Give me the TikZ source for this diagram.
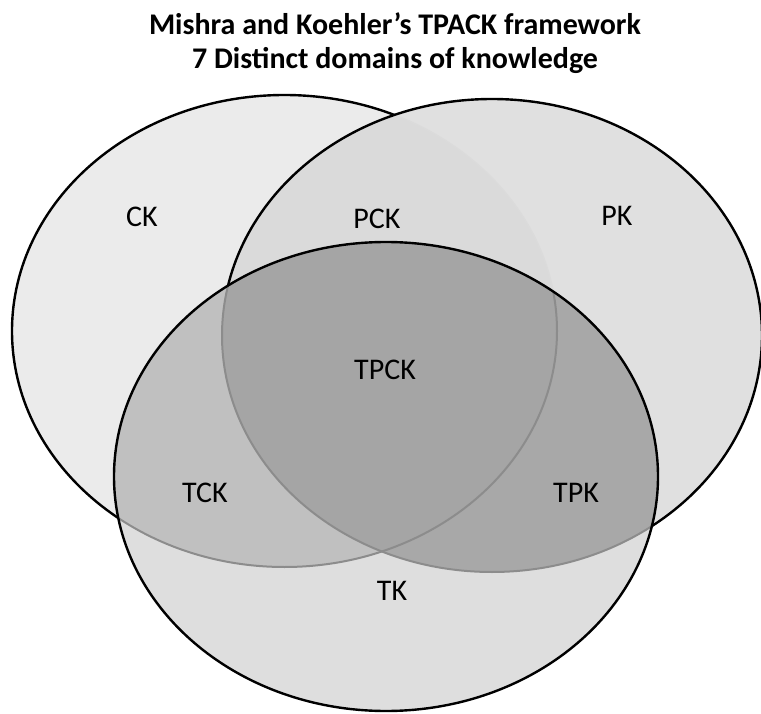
\documentclass[tikz,border=0pt]{standalone}
\usepackage{fontspec}
\setmainfont{Carlito}
\usepackage{tikz}
\usetikzlibrary{positioning}

\definecolor{ckfill}{HTML}{EBEBEB}
\definecolor{pkfill}{HTML}{E0E0E0}
\definecolor{pckfill}{HTML}{DADADA}
\definecolor{tkfill}{HTML}{DEDEDE}
\definecolor{tckfill}{HTML}{C0C0C0}
\definecolor{tpkfill}{HTML}{A8A8A8}
\definecolor{tpckfill}{HTML}{A5A5A5}

\def\ckshape{(284.5,331) ellipse [x radius=272.5, y radius=236]}
\def\pkshape{(492,335.5) ellipse [x radius=270, y radius=236.5]}
\def\tkshape{(386,476.5) ellipse [x radius=272, y radius=234.5]}

\begin{document}
\begin{tikzpicture}[x=1pt,y=-1pt,line cap=round,line join=round,
  rim/.style={draw=black,line width=2.4pt},
  faintrim/.style={draw=black!14,line width=1.6pt},
  innerrim/.style={draw=black!45,line width=2pt},
  knowlabel/.style={font=\fontsize{30}{32}\selectfont,inner sep=0pt}]
\path[use as bounding box] (0,0) rectangle (761,714);
% content knowledge
\fill[ckfill] \ckshape;
\draw[rim] \ckshape;
% pedagogical knowledge
\fill[pkfill] \pkshape;
\begin{scope}
\clip \ckshape;
\fill[pckfill] \pkshape;
\end{scope}
\begin{scope}
\clip \pkshape;
\draw[faintrim] \ckshape;
\end{scope}
\draw[rim] \pkshape;
% technological knowledge
\fill[tkfill] \tkshape;
\begin{scope}
\clip \tkshape;
\fill[tckfill] \ckshape;
\fill[tpkfill] \pkshape;
\begin{scope}
\clip \ckshape;
\fill[tpckfill] \pkshape;
\end{scope}
\draw[innerrim] \ckshape;
\draw[innerrim] \pkshape;
\end{scope}
\draw[rim] \tkshape;
% labels
\node[font=\bfseries\fontsize{30}{34}\selectfont,align=center] (title) at (395,43)
  {Mishra and Koehler’s TPACK framework\\7 Distinct domains of knowledge};
\node[knowlabel] (ck) at (142,217) {CK};
\node[knowlabel] (pck) at (377,219) {PCK};
\node[knowlabel] (pk) at (617,216) {PK};
\node[knowlabel] (tpck) at (385,370) {TPCK};
\node[knowlabel] (tck) at (205,493) {TCK};
\node[knowlabel] (tpk) at (576,493) {TPK};
\node[knowlabel] (tk) at (392,591) {TK};
\end{tikzpicture}
\end{document}
